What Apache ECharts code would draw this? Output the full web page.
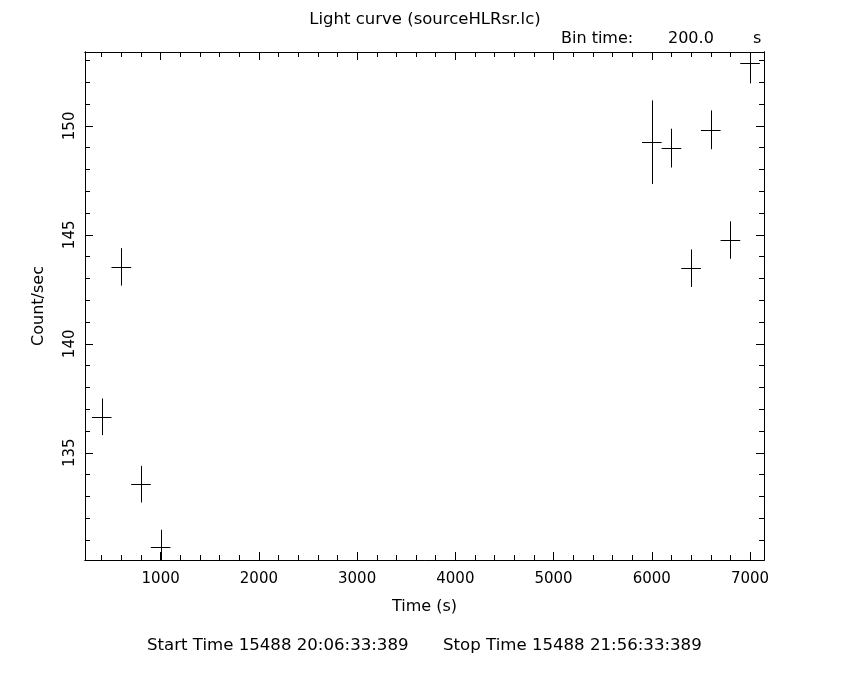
<!DOCTYPE html>
<html>
<head>
<meta charset="utf-8">
<script src="https://cdn.jsdelivr.net/npm/echarts@6/dist/echarts.min.js"></script>
<style>html,body{margin:0;padding:0;background:#fff;}#c{width:850px;height:680px;}</style>
</head>
<body>
<div id="c"></div>
<script>
// ---- data ----
const times = [400, 600, 800, 1000, 6000, 6200, 6400, 6600, 6800, 7000];
const rates = [136.65, 143.53, 133.56, 130.66, 149.25, 148.98, 143.47, 149.82, 144.76, 152.88];
const rateErrs = [0.84, 0.86, 0.84, 0.81, 1.92, 0.89, 0.86, 0.89, 0.86, 0.93];
const timeErrs = [100, 100, 100, 100, 100, 100, 100, 100, 100, 100];
const xMajorTicks = [1000, 2000, 3000, 4000, 5000, 6000, 7000];
const xMinorTicks = [400, 600, 800, 1200, 1400, 1600, 1800, 2200, 2400, 2600, 2800, 3200, 3400, 3600, 3800,
  4200, 4400, 4600, 4800, 5200, 5400, 5600, 5800, 6200, 6400, 6600, 6800];
const yMajorTicks = [135, 140, 145, 150];
const yMinorTicks = [131, 132, 133, 134, 136, 137, 138, 139, 141, 142, 143, 144, 146, 147, 148, 149, 151, 152, 153];
const xRange = [230, 7142];
const yRange = [130.08, 153.39];
const titleText = 'Light curve (sourceHLRsr.lc)';
const binLabel = 'Bin time:';
const binValue = '200.0';
const binUnit = 's';
const startText = 'Start Time 15488 20:06:33:389';
const stopText = 'Stop Time 15488 21:56:33:389';
const xName = 'Time (s)';
const yName = 'Count/sec';

// ---- chart ----
const FONT = 'DejaVu Sans';
const black = '#000';
const chart = echarts.init(document.getElementById('c'), null, {renderer: 'canvas'});
const plain = v => String(v);

function xAx(pos, ticks, len, labels) {
  return {
    type: 'value', position: pos, min: xRange[0], max: xRange[1],
    axisLine: {show: true, onZero: false, lineStyle: {color: black, width: 1}},
    axisTick: {show: true, inside: true, length: len, customValues: ticks, lineStyle: {color: black, width: 1}},
    axisLabel: labels ? {show: true, customValues: ticks, formatter: plain, color: black, fontFamily: FONT, fontSize: 15, margin: 12} : {show: false},
    splitLine: {show: false},
    name: labels ? xName : '', nameLocation: 'middle', nameGap: 39,
    nameTextStyle: {color: black, fontFamily: FONT, fontSize: 16}
  };
}
function yAx(pos, ticks, len, labels) {
  return {
    type: 'value', position: pos, min: yRange[0], max: yRange[1],
    axisLine: {show: true, onZero: false, lineStyle: {color: black, width: 1}},
    axisTick: {show: true, inside: true, length: len, customValues: ticks, lineStyle: {color: black, width: 1}},
    axisLabel: labels ? {show: true, customValues: ticks, formatter: plain, rotate: 90, color: black, fontFamily: FONT, fontSize: 15, margin: 7} : {show: false},
    splitLine: {show: false},
    name: labels ? yName : '', nameLocation: 'middle', nameGap: 38, nameRotate: 90,
    nameTextStyle: {color: black, fontFamily: FONT, fontSize: 16}
  };
}

const seriesData = times.map((t, i) => [t, rates[i], rateErrs[i], timeErrs[i]]);

function crisp(v) { return Math.round(v) + 0.5; }

const option = {
  backgroundColor: '#fff',
  animation: false,
  title: {
    text: titleText, left: 'center', top: 6,
    textStyle: {color: black, fontFamily: FONT, fontSize: 16.5, fontWeight: 'normal'}
  },
  grid: {left: 85, right: 86, top: 52, bottom: 120, containLabel: false},
  xAxis: [
    xAx('bottom', xMajorTicks, 8, true),
    xAx('bottom', xMinorTicks, 5, false),
    xAx('top', xMajorTicks, 8, false),
    xAx('top', xMinorTicks, 5, false)
  ],
  yAxis: [
    yAx('left', yMajorTicks, 8, true),
    yAx('left', yMinorTicks, 5, false),
    yAx('right', yMajorTicks, 8, false),
    yAx('right', yMinorTicks, 5, false)
  ],
  series: [{
    type: 'custom',
    xAxisIndex: 0, yAxisIndex: 0,
    clip: true,
    data: seriesData,
    renderItem: function (params, api) {
      const x = api.value(0), y = api.value(1), e = api.value(2), w = api.value(3);
      const pl = api.coord([x - w, y]), pr = api.coord([x + w, y]);
      const pt = api.coord([x, y + e]), pb = api.coord([x, y - e]);
      const st = {stroke: black, lineWidth: 1};
      return {
        type: 'group',
        children: [
          {type: 'line', shape: {x1: pl[0], y1: crisp(pl[1]), x2: pr[0], y2: crisp(pr[1])}, style: st},
          {type: 'line', shape: {x1: crisp(pt[0]), y1: pt[1], x2: crisp(pb[0]), y2: pb[1]}, style: st}
        ]
      };
    }
  }],
  graphic: [
    {type: 'text', left: 561, top: 31, style: {text: binLabel, fill: black, font: '16px "DejaVu Sans"'}},
    {type: 'text', left: 668, top: 31, style: {text: binValue, fill: black, font: '16px "DejaVu Sans"'}},
    {type: 'text', left: 753, top: 31, style: {text: binUnit, fill: black, font: '16px "DejaVu Sans"'}},
    {type: 'text', left: 147, top: 637, style: {text: startText, fill: black, font: '16.6px "DejaVu Sans"'}},
    {type: 'text', left: 443, top: 637, style: {text: stopText, fill: black, font: '16.6px "DejaVu Sans"'}}
  ]
};
chart.setOption(option);
</script>
</body>
</html>
